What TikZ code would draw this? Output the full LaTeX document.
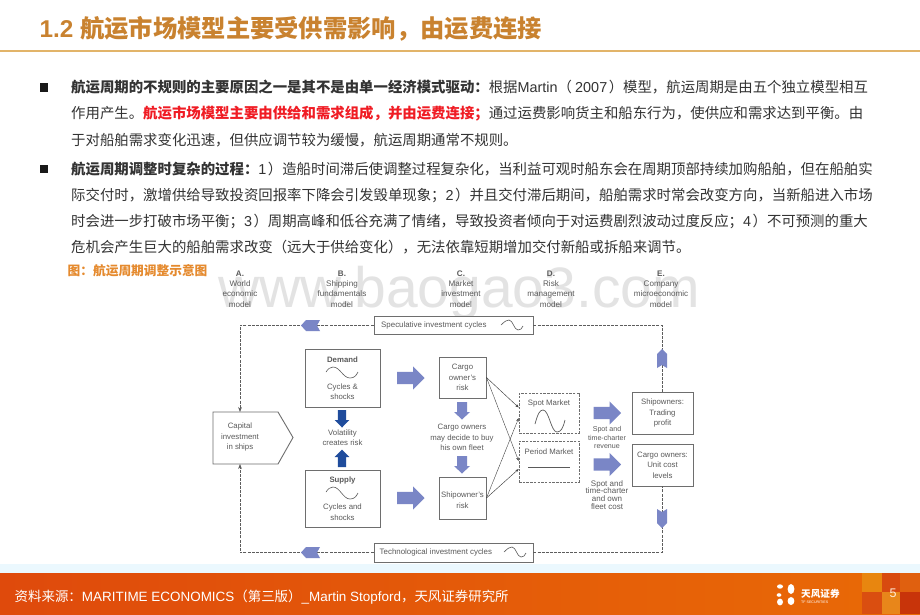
\documentclass[tikz,border=0pt]{standalone}
\usepackage{fontspec}
\setmainfont{Liberation Sans}
\newfontfamily\cjk{Noto Sans CJK SC}
\newfontfamily\lat{Liberation Sans}
\usetikzlibrary{arrows.meta}
\definecolor{titlec}{HTML}{C9822F}
\definecolor{rulec}{HTML}{E2B469}
\definecolor{bodyc}{HTML}{333333}
\definecolor{redc}{HTML}{F01C24}
\definecolor{capc}{HTML}{E58A2E}
\definecolor{labc}{HTML}{5A5A5A}
\definecolor{boxc}{HTML}{6E6E6E}
\definecolor{arrc}{HTML}{7A86C6}
\definecolor{darkb}{HTML}{1F4C9C}
\definecolor{wmc}{HTML}{E3E3E3}
\definecolor{footl}{HTML}{DF4A0C}
\definecolor{footr}{HTML}{E96A06}
\definecolor{decoa}{HTML}{E8860F}
\definecolor{decob}{HTML}{D84A0F}
\definecolor{decoc}{HTML}{E0600F}
\definecolor{decod}{HTML}{DA4E10}
\definecolor{decoe}{HTML}{E8861A}
\definecolor{decof}{HTML}{C8340A}
\newcommand{\rp}{\kern1.5pt ）}
\newcommand{\bigR}[2]{\fill[arrc] (#1,#2-6.2) -- (#1+16,#2-6.2) -- (#1+16,#2-11.7) -- (#1+27.5,#2) -- (#1+16,#2+11.7) -- (#1+16,#2+6.2) -- (#1,#2+6.2) -- cycle;}
\newcommand{\vertA}[6]{\fill[#1] (#2-#4,#3) -- (#2+#4,#3) -- (#2+#4,#3+#6) -- (#2+#5,#3+#6) -- (#2,#3+17.5) -- (#2-#5,#3+#6) -- (#2-#4,#3+#6) -- cycle;}
\newcommand{\vertU}[6]{\fill[#1] (#2-#4,#3) -- (#2+#4,#3) -- (#2+#4,#3-#6) -- (#2+#5,#3-#6) -- (#2,#3-17.5) -- (#2-#5,#3-#6) -- (#2-#4,#3-#6) -- cycle;}
\tikzset{
 para/.style={anchor=west,inner sep=0pt,text=bodyc,font=\cjk\fontsize{14.4}{16}\selectfont},
 lab/.style={align=center,text=labc,inner sep=0pt,font=\fontsize{8.1}{10.4}\selectfont},
 msg/.style={lab,font=\fontsize{7.8}{10.4}\selectfont},
 cyc/.style={lab,font=\fontsize{7.9}{10.4}\selectfont},
 tightb/.style={lab,font=\fontsize{7.1}{8.5}\selectfont},
 tight/.style={lab,font=\fontsize{8}{7.9}\selectfont},
 box/.style={draw=boxc,line width=0.9pt,fill=white},
 dbox/.style={draw=boxc,line width=0.7pt,dash pattern=on 2.5pt off 1.2pt,fill=white},
 link/.style={draw=boxc!85!black,line width=0.75pt,dash pattern=on 3pt off 1.1pt},
 thin/.style={draw=black!75,line width=0.45pt,-{Stealth[length=3.5pt,width=2.6pt]}},
 wave/.style={draw=labc,line width=0.6pt},
 tag/.style={fill=arrc},
}
\begin{document}
\begin{tikzpicture}[x=1pt,y=-1pt]
\useasboundingbox (0,0) rectangle (920,614);
\fill[white] (0,0) rectangle (920,614);
% watermark
\node[anchor=base west,inner sep=0pt,text=wmc,font=\fontsize{57}{60}\selectfont] (wm) at (218,307) {www.baogao3.com};
% title
\node[anchor=west,inner sep=0pt,text=titlec,font=\bfseries\fontsize{24.3}{26}\selectfont] (title) at (39.5,29) {1.2 {\cjk 航运市场模型主要受供需影响，由运费连接}};
\draw[rulec,line width=1.3pt] (0,51) -- (920,51);
% bullets
\fill[black!90] (39.5,83) rectangle (48,91.5);
\fill[black!90] (39.5,164.5) rectangle (48,173);
% body text
\node[para] (l1) at (71,87) {\textbf{航运周期的不规则的主要原因之一是其不是由单一经济模式驱动：}根据{\lat Martin}（ {\lat 2007}\rp 模型，航运周期是由五个独立模型相互};
\node[para] (l2) at (71,114) {作用产生。\textcolor{redc}{\textbf{航运市场模型主要由供给和需求组成，并由运费连接；}}通过运费影响货主和船东行为，使供应和需求达到平衡。由};
\node[para] (l3) at (71,140) {于对船舶需求变化迅速，但供应调节较为缓慢，航运周期通常不规则。};
\node[para] (l4) at (71,169) {\textbf{航运周期调整时复杂的过程：}{\lat 1}\rp 造船时间滞后使调整过程复杂化，当利益可观时船东会在周期顶部持续加购船舶，但在船舶实};
\node[para] (l5) at (71,195.5) {际交付时，激增供给导致投资回报率下降会引发毁单现象；{\lat 2}\rp 并且交付滞后期间，船舶需求时常会改变方向，当新船进入市场};
\node[para] (l6) at (71,221.5) {时会进一步打破市场平衡；{\lat 3}\rp 周期高峰和低谷充满了情绪，导致投资者倾向于对运费剧烈波动过度反应；{\lat 4}\rp 不可预测的重大};
\node[para] (l7) at (71,247.5) {危机会产生巨大的船舶需求改变（远大于供给变化），无法依靠短期增加交付新船或拆船来调节。};
\node[anchor=west,inner sep=0pt,text=capc,font=\cjk\bfseries\fontsize{12.7}{14}\selectfont] (cap) at (67.5,270.5) {图：航运周期调整示意图};
% column heads
\node[lab] (ca) at (240,289) {\textbf{A.}\\World\\economic\\model};
\node[lab] (cb) at (342,289) {\textbf{B.}\\Shipping\\fundamentals\\model};
\node[lab] (cc) at (461,289) {\textbf{C.}\\Market\\investment\\model};
\node[lab] (cd) at (551,289) {\textbf{D.}\\Risk\\management\\model};
\node[lab] (ce) at (661,289) {\textbf{E.}\\Company\\microeconomic\\model};
% boxes
\node[box,minimum width=159pt,minimum height=18pt,inner sep=0pt] (spec) at (453.5,325) {};
\node[box,minimum width=159pt,minimum height=19pt,inner sep=0pt] (tech) at (453.5,552.5) {};
\node[cyc,anchor=west] (spect) at (381,325) {Speculative investment cycles};
\node[cyc,anchor=west] (techt) at (379.5,552.5) {Technological investment cycles};
\coordinate (capN) at (240,412);
\coordinate (capS) at (240,464);
\draw[box] (213,412) -- (278,412) -- (293,437.5) -- (278,464) -- (213,464) -- cycle;
\node[msg] (capt) at (240,437) {Capital\\investment\\in ships};
\node[box,minimum width=75pt,minimum height=58pt,inner sep=0pt] (dem) at (342.5,378) {};
\node[box,minimum width=75pt,minimum height=57pt,inner sep=0pt] (sup) at (342.5,498.5) {};
\node[msg] (demh) at (342.5,359.5) {\textbf{Demand}};
\node[msg] (demt) at (342.5,391.5) {Cycles \&\\shocks};
\node[msg] (suph) at (342.5,480.5) {\textbf{Supply}};
\node[msg] (supt) at (342.5,512) {Cycles and\\shocks};
\node[msg] (vol) at (342.5,438) {Volatility\\creates risk};
\node[box,minimum width=47pt,minimum height=41pt,inner sep=0pt] (cargo) at (462.5,377.5) {};
\node[box,minimum width=47pt,minimum height=42pt,inner sep=0pt] (ship) at (462.5,498) {};
\node[msg] (cargot) at (462.5,377.5) {Cargo\\owner's\\risk};
\node[msg] (shipt) at (462.5,500) {Shipowner's\\risk};
\node[msg] (decide) at (462,437.5) {Cargo owners\\may decide to buy\\his own fleet};
\node[dbox,minimum width=60pt,minimum height=40pt,inner sep=0pt] (spot) at (549,413) {};
\node[dbox,minimum width=60pt,minimum height=41pt,inner sep=0pt] (period) at (549,461.5) {};
\node[msg] (spott) at (549,403.5) {Spot Market};
\node[msg] (periodt) at (549,452) {Period Market};
\node[box,minimum width=61pt,minimum height=42pt,inner sep=0pt] (owners) at (662.5,413) {};
\node[box,minimum width=61pt,minimum height=42pt,inner sep=0pt] (cowners) at (662.5,465) {};
\node[msg] (ownerst) at (662.5,413) {Shipowners:\\Trading\\profit};
\node[msg] (cownerst) at (662.5,465) {Cargo owners:\\Unit cost\\levels};
\node[tightb] (rev) at (607,437.5) {Spot and\\time-charter\\revenue};
\node[tight] (costt) at (607,495) {Spot and\\time-charter\\and own\\fleet cost};
% dashed cycle links
\coordinate (lt) at (240,325);
\coordinate (rt) at (662,325);
\coordinate (lb) at (240,552.5);
\coordinate (rb) at (662,552.5);
\draw[link,-{Stealth[length=5pt,width=3.8pt]}] (spec.west) -- (lt) -- (capN);
\draw[link,-{Stealth[length=5pt,width=3.8pt]}] (tech.west) -- (lb) -- (capS);
\draw[link] (spec.east) -- (rt) -- (owners.north -| rt);
\draw[link] (tech.east) -- (rb) -- (cowners.south -| rb);
% notched tags
\fill[tag] (301,325.5) -- (306,320) -- (320,320) -- (317,325.5) -- (320,331) -- (306,331) -- cycle;
\fill[tag] (301,552.5) -- (306,547) -- (320,547) -- (317,552.5) -- (320,558) -- (306,558) -- cycle;
\fill[tag] (662,349) -- (667,354) -- (667,368) -- (662,365) -- (657,368) -- (657,354) -- cycle;
\fill[tag] (662,528) -- (667,523) -- (667,509) -- (662,512) -- (657,509) -- (657,523) -- cycle;
% block arrows
\bigR{397}{378}
\bigR{397}{498}
\bigR{593.5}{413}
\bigR{593.5}{464.5}
\vertA{arrc}{462}{402}{5}{8}{10}
\vertA{arrc}{462}{456}{5}{8}{10}
\vertA{darkb}{342}{410}{4.2}{7.4}{10}
\vertU{darkb}{342}{467}{4.2}{7.4}{10}
% crossing links
\draw[thin] (cargo.east) -- (spot.west |- 0,407.5);
\draw[thin,dash pattern=on 1.5pt off 0.4pt] (cargo.east) -- (period.west |- 0,461);
\draw[thin,dash pattern=on 1.5pt off 0.4pt] (ship.east) -- (spot.west |- 0,418);
\draw[thin] (ship.east) -- (period.west |- 0,469);
% waves
\draw[wave] (326,372) .. controls (328,369) and (330,367) .. (333,367) .. controls (340,367) and (343,378) .. (350,378) .. controls (354,378) and (356,376) .. (358,372);
\draw[wave] (326,492) .. controls (328,489) and (330,487) .. (333,487) .. controls (340,487) and (343,499) .. (350,499) .. controls (354,499) and (356,497) .. (358,493);
\draw[wave,line width=0.7pt] (535,424) .. controls (538,413) and (540,410) .. (543,410) .. controls (549,410) and (551,432) .. (557,432) .. controls (561,432) and (563,428) .. (565,420);
\draw[wave] (528,467.5) -- (570,467.5);
\draw[wave] (501,325) .. controls (505,321) and (507,320) .. (509,320) .. controls (513,320) and (514,330) .. (518,330) .. controls (520,330) and (522,329) .. (523,326);
\draw[wave] (504,552) .. controls (508,548) and (510,547) .. (512,547) .. controls (516,547) and (517,557) .. (521,557) .. controls (523,557) and (525,556) .. (526,553);
% footer
\fill[white!92!cyan] (0,564) rectangle (920,573);
\shade[left color=footl,right color=footr] (0,573) rectangle (920,614);
\fill[decoa] (862,573) rectangle (882,592);
\fill[decob] (882,573) rectangle (900,592);
\fill[decoc] (900,573) rectangle (920,592);
\fill[decod] (862,592) rectangle (882,614);
\fill[decoe] (882,592) rectangle (900,614);
\fill[decof] (900,592) rectangle (920,614);
\node[anchor=west,inner sep=0pt,text=white,font=\fontsize{13.45}{14}\selectfont] (src) at (14.5,597) {{\cjk 资料来源：}MARITIME ECONOMICS{\cjk（第三版）}\_Martin Stopford{\cjk，天风证券研究所}};
\node[anchor=center,inner sep=0pt,text=white!85!orange,font=\fontsize{12.5}{13}\selectfont] (pn) at (893,593) {5};
% logo
\fill[white] (780,586.5) ellipse (3pt and 2.2pt);
\fill[white] (791,589) ellipse (3.4pt and 5pt);
\fill[white] (779,595) ellipse (2.4pt and 1.8pt);
\fill[white] (780,602) ellipse (3pt and 3.4pt);
\fill[white] (791,601) ellipse (3.4pt and 4pt);
\node[anchor=west,inner sep=0pt,text=white,font=\cjk\bfseries\fontsize{9.6}{10}\selectfont] (lg) at (801,594) {天风证券};
\node[anchor=west,inner sep=0pt,text=white,font=\fontsize{3.6}{4}\selectfont] (lg2) at (801,602.5) {TF SECURITIES};
\end{tikzpicture}
\end{document}
